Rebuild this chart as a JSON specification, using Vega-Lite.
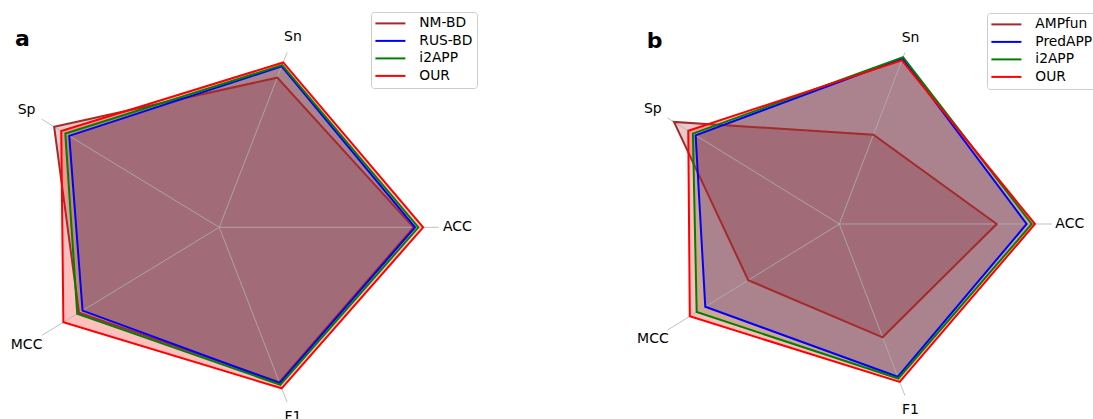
{
  "$schema": "https://vega.github.io/schema/vega-lite/v6.json",
  "padding": 0,
  "spacing": 0,
  "bounds": "flush",
  "config": {
    "view": {"stroke": null},
    "font": "DejaVu Sans",
    "legend": {"title": null, "symbolType": "M-3.5,0H11.5", "symbolSize": 16, "symbolStrokeWidth": 2, "labelFontSize": 13.8, "labelFont": "DejaVu Sans", "labelColor": "#000000", "fillColor": "rgba(255,255,255,0.8)", "strokeColor": "#cccccc", "cornerRadius": 3, "padding": 4.5, "rowPadding": 2.5, "labelOffset": 30}
  },
  "resolve": {"scale": {"stroke": "independent", "fill": "independent"}, "legend": {"stroke": "independent"}},
  "datasets": {
    "metrics": [{"metric": "ACC"}, {"metric": "Sn"}, {"metric": "Sp"}, {"metric": "MCC"}, {"metric": "F1"}],
    "a": [
      {"model": "NM-BD", "metric": "ACC", "value": 0.885},
      {"model": "NM-BD", "metric": "Sn", "value": 0.855},
      {"model": "NM-BD", "metric": "Sp", "value": 0.93},
      {"model": "NM-BD", "metric": "MCC", "value": 0.79},
      {"model": "NM-BD", "metric": "F1", "value": 0.885},
      {"model": "RUS-BD", "metric": "ACC", "value": 0.892},
      {"model": "RUS-BD", "metric": "Sn", "value": 0.92},
      {"model": "RUS-BD", "metric": "Sp", "value": 0.845},
      {"model": "RUS-BD", "metric": "MCC", "value": 0.77},
      {"model": "RUS-BD", "metric": "F1", "value": 0.89},
      {"model": "i2APP", "metric": "ACC", "value": 0.907},
      {"model": "i2APP", "metric": "Sn", "value": 0.927},
      {"model": "i2APP", "metric": "Sp", "value": 0.867},
      {"model": "i2APP", "metric": "MCC", "value": 0.8},
      {"model": "i2APP", "metric": "F1", "value": 0.9},
      {"model": "OUR", "metric": "ACC", "value": 0.929},
      {"model": "OUR", "metric": "Sn", "value": 0.942},
      {"model": "OUR", "metric": "Sp", "value": 0.89},
      {"model": "OUR", "metric": "MCC", "value": 0.878},
      {"model": "OUR", "metric": "F1", "value": 0.92}
    ],
    "b": [
      {"model": "AMPfun", "metric": "ACC", "value": 0.741},
      {"model": "AMPfun", "metric": "Sn", "value": 0.52},
      {"model": "AMPfun", "metric": "Sp", "value": 0.962},
      {"model": "AMPfun", "metric": "MCC", "value": 0.53},
      {"model": "AMPfun", "metric": "F1", "value": 0.66},
      {"model": "PredAPP", "metric": "ACC", "value": 0.882},
      {"model": "PredAPP", "metric": "Sn", "value": 0.965},
      {"model": "PredAPP", "metric": "Sp", "value": 0.836},
      {"model": "PredAPP", "metric": "MCC", "value": 0.78},
      {"model": "PredAPP", "metric": "F1", "value": 0.89},
      {"model": "i2APP", "metric": "ACC", "value": 0.906},
      {"model": "i2APP", "metric": "Sn", "value": 0.972},
      {"model": "i2APP", "metric": "Sp", "value": 0.852},
      {"model": "i2APP", "metric": "MCC", "value": 0.83},
      {"model": "i2APP", "metric": "F1", "value": 0.9},
      {"model": "OUR", "metric": "ACC", "value": 0.921},
      {"model": "OUR", "metric": "Sn", "value": 0.953},
      {"model": "OUR", "metric": "Sp", "value": 0.879},
      {"model": "OUR", "metric": "MCC", "value": 0.87},
      {"model": "OUR", "metric": "F1", "value": 0.92}
    ],
    "labA": [{"label": "a"}],
    "labB": [{"label": "b"}]
  },
  "hconcat": [
    {
      "width": 530,
      "height": 419,
      "layer": [
        {
          "data": {"name": "a"},
          "transform": [
            {"calculate": "indexof(['ACC','Sn','Sp','MCC','F1'], datum.metric)", "as": "idx"},
            {"calculate": "datum.value*cos(datum.idx*2*PI/5)", "as": "x"},
            {"calculate": "datum.value*sin(datum.idx*2*PI/5)", "as": "y"}
          ],
          "mark": {"type": "line", "interpolate": "linear-closed", "fillOpacity": 0.25, "strokeWidth": 0},
          "encoding": {
            "x": {"field": "x", "type": "quantitative", "scale": {"domain": [-0.999, 1.4155], "nice": false, "zero": false}, "axis": null},
            "y": {"field": "y", "type": "quantitative", "scale": {"domain": [-1.0418, 1.2353], "nice": false, "zero": false}, "axis": null},
            "fill": {"field": "model", "type": "nominal", "scale": {"domain": ["NM-BD", "RUS-BD", "i2APP", "OUR"], "range": ["#a52a2a", "#0000ff", "#008000", "#ff0000"]}, "legend": null},
            "order": {"field": "idx", "type": "quantitative"}
          }
        },
        {
          "data": {"name": "metrics"},
          "transform": [
            {"calculate": "indexof(['ACC','Sn','Sp','MCC','F1'], datum.metric)", "as": "idx"},
            {"calculate": "0", "as": "zero"},
            {"calculate": "cos(datum.idx*2*PI/5)", "as": "sx"},
            {"calculate": "sin(datum.idx*2*PI/5)", "as": "sy"}
          ],
          "mark": {"type": "rule", "color": "#b0b0b0", "strokeWidth": 0.8},
          "encoding": {
            "x": {"field": "zero", "type": "quantitative"},
            "y": {"field": "zero", "type": "quantitative"},
            "x2": {"field": "sx"},
            "y2": {"field": "sy"}
          }
        },
        {
          "data": {"name": "a"},
          "transform": [
            {"calculate": "indexof(['ACC','Sn','Sp','MCC','F1'], datum.metric)", "as": "idx"},
            {"calculate": "datum.value*cos(datum.idx*2*PI/5)", "as": "x"},
            {"calculate": "datum.value*sin(datum.idx*2*PI/5)", "as": "y"}
          ],
          "mark": {"type": "line", "interpolate": "linear-closed", "strokeWidth": 2},
          "encoding": {
            "x": {"field": "x", "type": "quantitative"},
            "y": {"field": "y", "type": "quantitative"},
            "stroke": {
              "field": "model", "type": "nominal",
              "scale": {"domain": ["NM-BD", "RUS-BD", "i2APP", "OUR"], "range": ["#a52a2a", "#0000ff", "#008000", "#ff0000"]},
              "legend": {"orient": "none", "legendX": 371, "legendY": 12}
            },
            "order": {"field": "idx", "type": "quantitative"}
          }
        },
        {
          "data": {"name": "metrics"},
          "transform": [
            {"calculate": "indexof(['ACC','Sn','Sp','MCC','F1'], datum.metric)", "as": "idx"},
            {"calculate": "1.085*cos(datum.idx*2*PI/5)", "as": "lx"},
            {"calculate": "1.085*sin(datum.idx*2*PI/5)", "as": "ly"}
          ],
          "mark": {"type": "text", "fontSize": 14, "color": "#000000", "align": "center", "baseline": "middle", "clip": true},
          "encoding": {
            "x": {"field": "lx", "type": "quantitative"},
            "y": {"field": "ly", "type": "quantitative"},
            "text": {"field": "metric", "type": "nominal"}
          }
        },
        {
          "data": {"name": "labA"},
          "transform": [
            {"calculate": "-0.8966", "as": "px"},
            {"calculate": "0.985", "as": "py"}
          ],
          "mark": {"type": "text", "fontSize": 22, "fontWeight": "bold", "color": "#000000", "align": "center", "baseline": "alphabetic"},
          "encoding": {
            "x": {"field": "px", "type": "quantitative"},
            "y": {"field": "py", "type": "quantitative"},
            "text": {"field": "label", "type": "nominal"}
          }
        }
      ],
      "resolve": {"scale": {"fill": "independent", "stroke": "independent"}}
    },
    {
      "width": 563,
      "height": 419,
      "layer": [
        {
          "data": {"name": "b"},
          "transform": [
            {"calculate": "indexof(['ACC','Sn','Sp','MCC','F1'], datum.metric)", "as": "idx"},
            {"calculate": "datum.value*cos(datum.idx*2*PI/5)", "as": "x"},
            {"calculate": "datum.value*sin(datum.idx*2*PI/5)", "as": "y"}
          ],
          "mark": {"type": "line", "interpolate": "linear-closed", "fillOpacity": 0.25, "strokeWidth": 0},
          "encoding": {
            "x": {"field": "x", "type": "quantitative", "scale": {"domain": [-1.4562, 1.1944], "nice": false, "zero": false}, "axis": null},
            "y": {"field": "y", "type": "quantitative", "scale": {"domain": [-1.0803, 1.241], "nice": false, "zero": false}, "axis": null},
            "fill": {"field": "model", "type": "nominal", "scale": {"domain": ["AMPfun", "PredAPP", "i2APP", "OUR"], "range": ["#a52a2a", "#0000ff", "#008000", "#ff0000"]}, "legend": null},
            "order": {"field": "idx", "type": "quantitative"}
          }
        },
        {
          "data": {"name": "metrics"},
          "transform": [
            {"calculate": "indexof(['ACC','Sn','Sp','MCC','F1'], datum.metric)", "as": "idx"},
            {"calculate": "0", "as": "zero"},
            {"calculate": "cos(datum.idx*2*PI/5)", "as": "sx"},
            {"calculate": "sin(datum.idx*2*PI/5)", "as": "sy"}
          ],
          "mark": {"type": "rule", "color": "#b0b0b0", "strokeWidth": 0.8},
          "encoding": {
            "x": {"field": "zero", "type": "quantitative"},
            "y": {"field": "zero", "type": "quantitative"},
            "x2": {"field": "sx"},
            "y2": {"field": "sy"}
          }
        },
        {
          "data": {"name": "b"},
          "transform": [
            {"calculate": "indexof(['ACC','Sn','Sp','MCC','F1'], datum.metric)", "as": "idx"},
            {"calculate": "datum.value*cos(datum.idx*2*PI/5)", "as": "x"},
            {"calculate": "datum.value*sin(datum.idx*2*PI/5)", "as": "y"}
          ],
          "mark": {"type": "line", "interpolate": "linear-closed", "strokeWidth": 2},
          "encoding": {
            "x": {"field": "x", "type": "quantitative"},
            "y": {"field": "y", "type": "quantitative"},
            "stroke": {
              "field": "model", "type": "nominal",
              "scale": {"domain": ["AMPfun", "PredAPP", "i2APP", "OUR"], "range": ["#a52a2a", "#0000ff", "#008000", "#ff0000"]},
              "legend": {"orient": "none", "legendX": 457, "legendY": 13}
            },
            "order": {"field": "idx", "type": "quantitative"}
          }
        },
        {
          "data": {"name": "metrics"},
          "transform": [
            {"calculate": "indexof(['ACC','Sn','Sp','MCC','F1'], datum.metric)", "as": "idx"},
            {"calculate": "1.085*cos(datum.idx*2*PI/5)", "as": "lx"},
            {"calculate": "1.085*sin(datum.idx*2*PI/5)", "as": "ly"}
          ],
          "mark": {"type": "text", "fontSize": 14, "color": "#000000", "align": "center", "baseline": "middle", "clip": true},
          "encoding": {
            "x": {"field": "lx", "type": "quantitative"},
            "y": {"field": "ly", "type": "quantitative"},
            "text": {"field": "metric", "type": "nominal"}
          }
        },
        {
          "data": {"name": "labB"},
          "transform": [
            {"calculate": "-0.87", "as": "px"},
            {"calculate": "0.975", "as": "py"}
          ],
          "mark": {"type": "text", "fontSize": 22, "fontWeight": "bold", "color": "#000000", "align": "center", "baseline": "alphabetic"},
          "encoding": {
            "x": {"field": "px", "type": "quantitative"},
            "y": {"field": "py", "type": "quantitative"},
            "text": {"field": "label", "type": "nominal"}
          }
        }
      ],
      "resolve": {"scale": {"fill": "independent", "stroke": "independent"}}
    }
  ]
}
